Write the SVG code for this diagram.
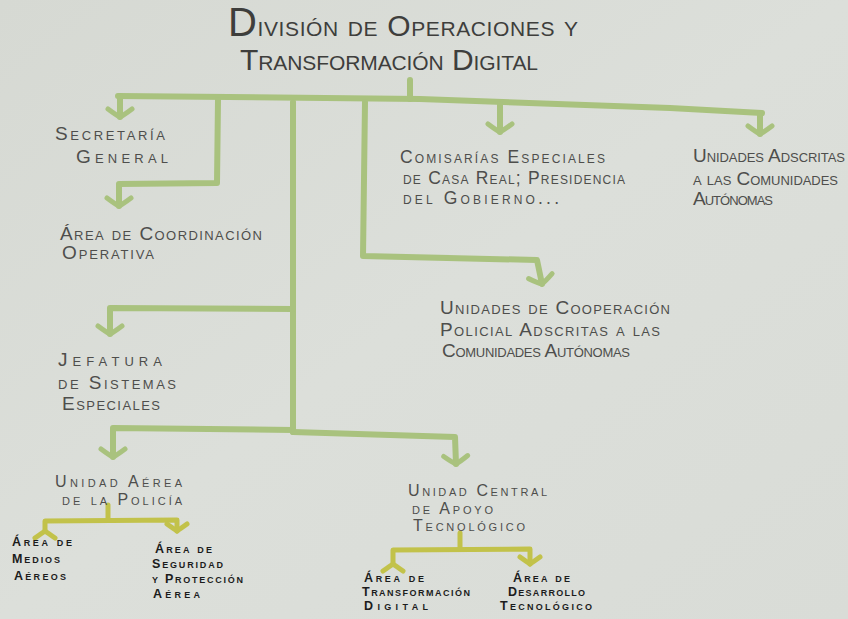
<svg xmlns="http://www.w3.org/2000/svg" width="848" height="619" viewBox="0 0 848 619">
<defs>
<linearGradient id="paper" x1="0" y1="0" x2="1" y2="1">
<stop offset="0" stop-color="#d6d9d3"/>
<stop offset="0.5" stop-color="#dcdfda"/>
<stop offset="1" stop-color="#d9dcd7"/>
</linearGradient>
<marker id="chev" viewBox="-16 -16 32 32" markerWidth="32" markerHeight="32" refX="0" refY="0" orient="auto" markerUnits="userSpaceOnUse">
<path d="M-8 -12 Q-2 -4 0 0 Q-2 4 -8 12" fill="none" stroke="#a9c27e" stroke-width="5" stroke-linecap="round"/>
</marker>
<marker id="chevY" viewBox="-16 -16 32 32" markerWidth="32" markerHeight="32" refX="0" refY="0" orient="auto" markerUnits="userSpaceOnUse">
<path d="M-7 -10 Q-2 -3 0 0 Q-2 3 -7 10" fill="none" stroke="#c2c24a" stroke-width="5" stroke-linecap="round"/>
</marker>
</defs>
<style>
.g{fill:none;stroke:#a9c27e;stroke-width:6;stroke-linejoin:round;stroke-linecap:round}
.y{fill:none;stroke:#c2c24a;stroke-width:5;stroke-linejoin:round;stroke-linecap:round}
.t{font-family:"Liberation Sans",Arial,sans-serif;font-variant:small-caps;fill:#4e4e4c;font-size:19px}
.s{font-size:16px}
.m{font-size:17.5px}
.ti{font-family:"Liberation Sans",Arial,sans-serif;font-variant:small-caps;fill:#3e3e3c;font-size:30px}
.k{font-family:"Liberation Sans",Arial,sans-serif;font-variant:small-caps;fill:#1c1c1c;font-size:12.5px;font-weight:bold}
</style>
<rect width="848" height="619" fill="url(#paper)"/>

<g id="connectors">
<path class="g" d="M118 96 L420 99 L670 108 L762 113"/>
<path class="g" d="M410 80 L410 99"/>
<path class="g" d="M120 96 L120 117" marker-end="url(#chev)"/>
<path class="g" d="M218 100 L217 183 L119 184 L119 206" marker-end="url(#chev)"/>
<path class="g" d="M293 102 L293 432"/>
<path class="g" d="M293 309 L110 308 L110 334" marker-end="url(#chev)"/>
<path class="g" d="M293 430 L113 428 L113 457" marker-end="url(#chev)"/>
<path class="g" d="M293 432 L455 437 L456 464" marker-end="url(#chev)"/>
<path class="g" d="M365 102 L363 256 L537 260 L542 284" marker-end="url(#chev)"/>
<path class="g" d="M500 104 L500 132" marker-end="url(#chev)"/>
<path class="g" d="M760 113 L760 134" marker-end="url(#chev)"/>
<path class="y" d="M108 505 L108 519"/>
<path class="y" d="M45 531 L45 521 L177 520 L177 531" marker-start="url(#chevY)" marker-end="url(#chevY)"/>
<path class="y" d="M460 533 L460 549"/>
<path class="y" d="M393 564 L393 550 L530 549 L530 564" marker-start="url(#chevY)" marker-end="url(#chevY)"/>
</g>

<g id="title">
<text class="ti" x="228" y="36" textLength="350" lengthAdjust="spacing"><tspan font-size="40">D</tspan>ivisión de Operaciones y</text>
<text class="ti" x="240" y="70" textLength="298" lengthAdjust="spacing">Transformación Digital</text>
</g>

<g id="secretaria">
<text class="t" x="55" y="140" textLength="110" lengthAdjust="spacing">Secretaría</text>
<text class="t" x="76" y="163" textLength="92" lengthAdjust="spacing">General</text>
</g>

<g id="coordinacion">
<text class="t" x="60" y="240" textLength="202" lengthAdjust="spacing">Área de Coordinación</text>
<text class="t" x="62" y="259" textLength="92" lengthAdjust="spacing">Operativa</text>
</g>

<g id="jefatura">
<text class="t" x="58" y="366" textLength="104" lengthAdjust="spacing">Jefatura</text>
<text class="t" x="58" y="389" textLength="118" lengthAdjust="spacing">de Sistemas</text>
<text class="t" x="62" y="410" textLength="98" lengthAdjust="spacing">Especiales</text>
</g>

<g id="comisarias">
<text class="t m" x="400" y="163" textLength="205" lengthAdjust="spacing">Comisarías Especiales</text>
<text class="t m" x="403" y="184" textLength="222" lengthAdjust="spacing">de Casa Real; Presidencia</text>
<text class="t m" x="403" y="204" textLength="156" lengthAdjust="spacing">del Gobierno...</text>
</g>

<g id="adscritas">
<text class="t" x="693" y="162" textLength="152" lengthAdjust="spacing">Unidades Adscritas</text>
<text class="t" x="693" y="185" textLength="145" lengthAdjust="spacing">a las Comunidades</text>
<text class="t" x="693" y="205" textLength="80" lengthAdjust="spacing">Autónomas</text>
</g>

<g id="cooperacion">
<text class="t" x="440" y="314" textLength="230" lengthAdjust="spacing">Unidades de Cooperación</text>
<text class="t" x="440" y="336" textLength="220" lengthAdjust="spacing">Policial Adscritas a las</text>
<text class="t" x="442" y="357" textLength="188" lengthAdjust="spacing">Comunidades Autónomas</text>
</g>

<g id="unidad-aerea">
<text class="t s" x="55" y="487" textLength="127" lengthAdjust="spacing">Unidad Aérea</text>
<text class="t s" x="62" y="505" textLength="120" lengthAdjust="spacing">de la Policía</text>
</g>

<g id="medios-aereos">
<text class="k" x="12" y="546" textLength="60" lengthAdjust="spacing">Área de</text>
<text class="k" x="12" y="563" textLength="48" lengthAdjust="spacing">Medios</text>
<text class="k" x="14" y="580" textLength="52" lengthAdjust="spacing">Aéreos</text>
</g>

<g id="seguridad-aerea">
<text class="k" x="155" y="553" textLength="57" lengthAdjust="spacing">Área de</text>
<text class="k" x="152" y="568" textLength="71" lengthAdjust="spacing">Seguridad</text>
<text class="k" x="152" y="583" textLength="91" lengthAdjust="spacing">y Protección</text>
<text class="k" x="153" y="598" textLength="47" lengthAdjust="spacing">Aérea</text>
</g>

<g id="unidad-central">
<text class="t s" x="408" y="496" textLength="139" lengthAdjust="spacing">Unidad Central</text>
<text class="t s" x="412" y="514" textLength="81" lengthAdjust="spacing">de Apoyo</text>
<text class="t s" x="413" y="531" textLength="112" lengthAdjust="spacing">Tecnológico</text>
</g>

<g id="transformacion-digital">
<text class="k" x="364" y="582" textLength="60" lengthAdjust="spacing">Área de</text>
<text class="k" x="362" y="596" textLength="108" lengthAdjust="spacing">Transformación</text>
<text class="k" x="364" y="610" textLength="64" lengthAdjust="spacing">Digital</text>
</g>

<g id="desarrollo-tecnologico">
<text class="k" x="513" y="582" textLength="57" lengthAdjust="spacing">Área de</text>
<text class="k" x="508" y="596" textLength="77" lengthAdjust="spacing">Desarrollo</text>
<text class="k" x="500" y="610" textLength="92" lengthAdjust="spacing">Tecnológico</text>
</g>
</svg>
